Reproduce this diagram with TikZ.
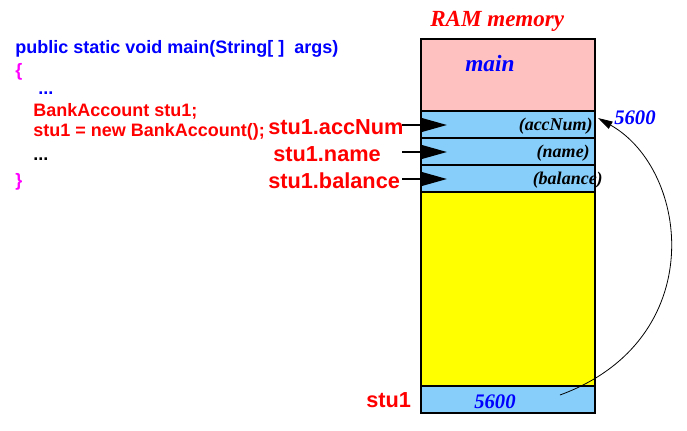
\documentclass[tikz,border=0pt]{standalone}
\usepackage{fontspec}
\setmainfont{Liberation Serif}
\setsansfont{Liberation Sans}
\usetikzlibrary{arrows.meta}

\definecolor{codeblue}{RGB}{0,0,255}
\definecolor{codered}{RGB}{255,0,0}
\definecolor{bracemag}{RGB}{255,0,255}
\definecolor{mainpink}{RGB}{255,192,192}
\definecolor{fieldblue}{RGB}{135,206,250}
\definecolor{heapyellow}{RGB}{255,255,0}

\begin{document}
\begin{tikzpicture}[x=0.75pt,y=-0.75pt,
  cell/.style={draw,line width=0.9pt,minimum width=130.5pt,inner sep=0pt},
  code/.style={anchor=base west,inner sep=0pt,font=\sffamily\bfseries\fontsize{13.5}{15}\selectfont},
  ref label/.style={anchor=base west,inner sep=0pt,text=codered,font=\sffamily\bfseries\fontsize{16.3}{18}\selectfont},
  field/.style={anchor=base east,inner sep=0pt,font=\rmfamily\bfseries\itshape\fontsize{13.5}{15}\selectfont},
  value/.style={anchor=base west,inner sep=0pt,text=codeblue,font=\rmfamily\bfseries\itshape\fontsize{15.5}{17}\selectfont},
  ptr/.style={line width=1.5pt,-{Triangle[length=19.5pt,width=10.5pt]}}]

  \useasboundingbox (0,0) rectangle (687,430);

  % source code
  \node[code,text=codeblue] (sig) at (15,53) {public static void main(String[ ]\ \ args)};
  \node[code,text=bracemag] (open) at (15,76) {\{};
  \node[code,text=codeblue] (dots1) at (38,94) {...};
  \node[code,text=codered] (decl) at (33,116) {BankAccount stu1;};
  \node[code,text=codered] (newobj) at (33,136) {stu1 = new BankAccount();};
  \node[code] (dots2) at (33,160) {...};
  \node[code,text=bracemag] (close) at (15,186) {\}};

  % memory
  \node[anchor=base west,inner sep=0pt,text=codered,font=\rmfamily\bfseries\itshape\fontsize{17.3}{19}\selectfont] (ram) at (430,26) {RAM memory};
  \node[cell,fill=mainpink,minimum height=54pt] (main) at (508,75) {};
  \node[cell,fill=fieldblue,minimum height=20.25pt] (acc) at (508,124.5) {};
  \node[cell,fill=fieldblue,minimum height=20.25pt] (name) at (508,151.5) {};
  \node[cell,fill=fieldblue,minimum height=20.25pt] (bal) at (508,178.5) {};
  \node[cell,fill=heapyellow,minimum height=145.5pt] (heap) at (508,289) {};
  \node[cell,fill=fieldblue,minimum height=20.25pt] (stu) at (508,399.5) {};

  \node[value,font=\rmfamily\bfseries\itshape\fontsize{17.5}{19}\selectfont] (mainlbl) at (465,71) {main};
  \node[field] (acclbl) at (593,130) {(accNum)};
  \node[field] (namelbl) at (590,157) {(name)};
  \node[field] (ballbl) at (603,184) {(balance)};
  \node[value] (addr) at (614,124) {5600};
  \node[value] (stuval) at (474,408) {5600};

  % references
  \node[ref label] (racc) at (268,134) {stu1.accNum};
  \node[ref label] (rname) at (273,161) {stu1.name};
  \node[ref label] (rbal) at (268,188) {stu1.balance};
  \node[ref label] (rstu) at (366,407) {stu1};

  \coordinate (sa) at (402,125);
  \coordinate (ea) at (447,125);
  \coordinate (sn) at (402,152);
  \coordinate (en) at (447,152);
  \coordinate (sb) at (402,179);
  \coordinate (eb) at (447,179);
  \draw[ptr] (sa) -- (ea);
  \draw[ptr] (sn) -- (en);
  \draw[ptr] (sb) -- (eb);

  \coordinate (from) at (560,395);
  \coordinate (to) at (598,118);
  \draw[line width=0.6pt,-{Triangle[length=11pt,width=6pt]}] (from) .. controls (710,340) and (690,170) .. (to);
\end{tikzpicture}
\end{document}
